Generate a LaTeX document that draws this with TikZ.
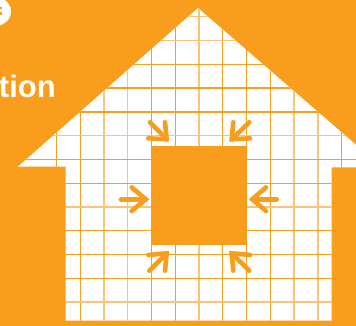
\documentclass[tikz,border=0pt]{standalone}
\usepackage{fontspec}
\setmainfont{Liberation Sans}
\definecolor{housebg}{HTML}{F99D1C}
\tikzset{
  x=1pt,y=-1pt,
  gridsolid/.style={draw=housebg,line width=1.1pt},
  gridsoft/.style={draw=housebg!60,line width=1.6pt},
  inarrow/.style={draw=housebg,line width=4.6pt,line cap=round,line join=miter},
}
\begin{document}
\begin{tikzpicture}
\useasboundingbox (0,0) rectangle (356,326);
\fill[housebg] (0,0) rectangle (356,326);
\begin{scope}
\clip (0,0) rectangle (356,326);
\fill[white] (198,8) -- (382,167.3) -- (331.7,167.3) -- (331.7,320.7) -- (65.5,320.7) -- (65.5,166.6) -- (18,166.6) -- cycle;
\begin{scope}
\clip (198,8) -- (382,167.3) -- (331.7,167.3) -- (331.7,320.7) -- (65.5,320.7) -- (65.5,166.6) -- (18,166.6) -- cycle;
\foreach \x in {56.7,80.3,151.3,175.3,222.7,246.7,270.7,341.7} \draw[gridsolid] (\x,0) -- (\x,326);
\foreach \x in {104,127.3,199,294,317.7} \draw[gridsoft] (\x,0) -- (\x,326);
\foreach \y in {64.3,88,112,159.3,183.3,230.5,254.3,278.2} \draw[gridsolid] (0,\y) -- (356,\y);
\foreach \y in {16.7,40.7,135.7,207,301.7} \draw[gridsoft] (0,\y) -- (356,\y);
\end{scope}
\fill[white] (-3,11.5) circle (14);
\fill[housebg] (-2,7.5) rectangle (1.5,9.5);
\fill[housebg] (-2,12.5) rectangle (1.5,15);
\end{scope}
\node[anchor=base east,text=white,font=\bfseries\fontsize{31}{31}\selectfont,inner sep=0pt] (label) at (56,98) {tion};
\fill[housebg] (151.3,145.7) rectangle (246.7,245);
\draw[inarrow] (150,122.3) -- (166.7,139.3);
\draw[inarrow] (165,122.3) -- (166.7,139.3) -- (148.3,138.3);
\draw[inarrow] (249.3,122.3) -- (231.7,139.3);
\draw[inarrow] (233.3,122.3) -- (231.7,139.3) -- (250,138.3);
\draw[inarrow] (121,199.3) -- (145.7,199.3);
\draw[inarrow] (131.7,187.3) -- (145.7,199.3) -- (131.7,211);
\draw[inarrow] (276.7,199.3) -- (252.3,199.3);
\draw[inarrow] (266,187.3) -- (252.3,199.3) -- (266,211);
\draw[inarrow] (149.3,270.7) -- (166.7,253.3);
\draw[inarrow] (148.3,255) -- (166.7,253.3) -- (165,270.7);
\draw[inarrow] (249.3,270.7) -- (231.7,253.3);
\draw[inarrow] (250,255) -- (231.7,253.3) -- (233.3,270.7);
\end{tikzpicture}
\end{document}
